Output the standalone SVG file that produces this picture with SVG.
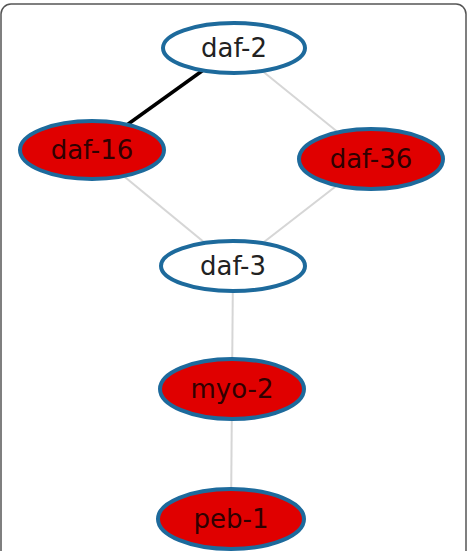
<svg xmlns="http://www.w3.org/2000/svg" width="469" height="551" viewBox="0 0 469 551">
<style>
.frame{fill:#fff;stroke:#555;stroke-width:1.5}
.e{stroke:#d6d6d6;stroke-width:2;fill:none}
.eb{stroke:#000;stroke-width:3.5;fill:none}
.n{stroke:#1d6a9c;stroke-width:4}
.w{fill:#fff}
.r{fill:#e00000}
.t{font-family:"DejaVu Sans",sans-serif;font-size:26px;text-anchor:middle;dominant-baseline:central}
.tw{fill:#222}
.tr{fill:#300000}
</style>
<rect class="frame" x="1" y="4" width="465" height="560" rx="10"/>
<g id="edges">
<line class="eb" x1="234" y1="48" x2="92" y2="150"/>
<line class="e" x1="234" y1="48" x2="371" y2="159"/>
<line class="e" x1="92" y1="150" x2="233" y2="266"/>
<line class="e" x1="371" y1="159" x2="233" y2="266"/>
<line class="e" x1="233" y1="266" x2="232" y2="389"/>
<line class="e" x1="232" y1="389" x2="231" y2="519"/>
</g>
<g id="daf-2"><ellipse class="n w" cx="234" cy="48" rx="71" ry="25"/><text class="t tw" x="234" y="48">daf-2</text></g>
<g id="daf-16"><ellipse class="n r" cx="92" cy="150" rx="72" ry="29"/><text class="t tr" x="92" y="150">daf-16</text></g>
<g id="daf-36"><ellipse class="n r" cx="371" cy="159" rx="72" ry="30"/><text class="t tr" x="371" y="159">daf-36</text></g>
<g id="daf-3"><ellipse class="n w" cx="233" cy="266" rx="72" ry="25"/><text class="t tw" x="233" y="266">daf-3</text></g>
<g id="myo-2"><ellipse class="n r" cx="232" cy="389" rx="72" ry="30"/><text class="t tr" x="232" y="389">myo-2</text></g>
<g id="peb-1"><ellipse class="n r" cx="231" cy="519" rx="73" ry="30"/><text class="t tr" x="231" y="519">peb-1</text></g>
</svg>
